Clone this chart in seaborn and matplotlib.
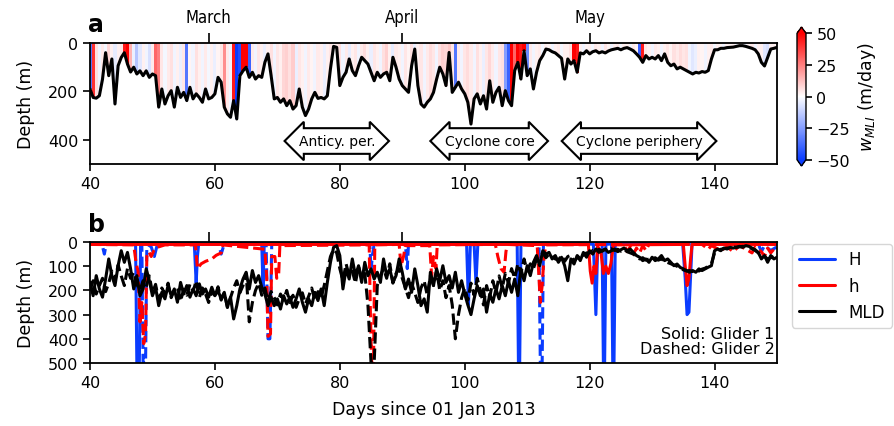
import numpy as np
import matplotlib
matplotlib.use("Agg")
import matplotlib.pyplot as plt
from matplotlib.colors import LinearSegmentedColormap
from matplotlib.lines import Line2D
import seaborn as sns

sns.set_style("ticks")
plt.rcParams["font.family"] = ["DejaVu Sans"]
plt.rcParams.update({"text.color": "black", "axes.labelcolor": "black",
                     "xtick.color": "black", "ytick.color": "black",
                     "axes.edgecolor": "black"})

# ---------------- data ----------------
T0, DT = 40.0, 0.5   # glider time series start day and sampling step (days)

# panel a: mixed-layer depth (m) used to bound the w_MLI field
mld_a = [190, 225, 228, 218, 150, 40, 135, 66, 252, 94, 60, 40, 87, 120, 100, 128, 115, 135, 115, 142,
         128, 135, 265, 190, 252, 218, 197, 265, 183, 225, 204, 238, 183, 231, 210, 225, 245, 190, 231, 225,
         210, 142, 162, 265, 293, 307, 238, 314, 135, 115, 100, 142, 121, 149, 135, 142, 80, 45, 135, 231,
         225, 245, 231, 259, 238, 273, 259, 190, 265, 300, 273, 231, 204, 229, 225, 231, 218, 107, 14, 18,
         176, 142, 121, 66, 114, 135, 94, 59, 73, 87, 121, 156, 121, 142, 128, 121, 156, 59, 100, 149,
         176, 190, 204, 94, 25, 176, 252, 265, 245, 231, 204, 149, 100, 128, 176, 39, 204, 183, 162, 190,
         210, 245, 335, 231, 210, 252, 218, 273, 156, 245, 204, 183, 259, 197, 238, 259, 114, 80, 149, 32,
         135, 107, 190, 121, 73, 52, 25, 28, 36, 41, 52, 63, 149, 66, 87, 73, 121, 41, 45, 32,
         45, 36, 32, 41, 36, 41, 33, 28, 25, 22, 28, 22, 19, 25, 32, 45, 59, 80, 52, 66,
         59, 66, 52, 73, 45, 80, 94, 87, 107, 100, 107, 114, 121, 128, 121, 124, 118, 121, 114, 66,
         28, 28, 22, 22, 19, 18, 17, 14, 11, 11, 14, 18, 22, 28, 45, 80, 95, 60, 25, 22, 18]

# panel a: w_MLI (m/day)
w_mli = [-35, 40, 6, -3, 4, -2, 8, 3, -5, 3, 5, 45, 50, 15, -4, -15, -6, 3, -3, -8,
         4, 30, 25, 5, -2, 4, 6, -3, 3, -4, 5, -35, 2, -3, 6, 3, -3, 4, -2, 3,
         -4, 2, 5, 22, 4, -3, 45, -50, -45, 50, 50, -40, 4, -3, 5, 3, -4, 3, 6, -3,
         5, 3, 8, 9, 6, 10, -4, 5, 3, -3, 4, 2, -3, 4, 3, -4, 3, 5, 2, 4,
         6, -3, 4, -5, 3, 5, -3, 4, 7, 3, -4, 5, 3, -3, 6, 9, 3, -5, 4, 3,
         -3, 5, 2, 6, -4, 3, 5, -3, 4, 7, 5, -3, 6, 9, 8, 11, 5, -35, 4, -3,
         5, 7, 4, -3, 6, 3, -4, 5, 8, 4, -3, 5, 6, -25, -40, 50, 30, 50, 45, 50,
         -30, 4, -3, 3, 4, -2, 3, 2, -3, 3, 4, -2, 3, 3, 6, 50, 45, 3, -3, 2,
         3, -2, 4, 3, -3, 5, 2, -3, 3, 4, -2, 3, 3, -3, 4, 2, -40, 45, 5, 3,
         -3, 4, 3, -3, 3, 5, 2, 6, 4, 7, 5, 6, -3, -6, -4, 3, 2, -3, 3, 4,
         -2, 3, 2, -3, 3, 2, 3, -2, 3, 2, -3, 3, 4, -3, 3, 3, -6, -8, 3, 3, 2]

# panel b: mixed-layer depth (m), glider 1 and glider 2
mld_g1 = [167, 222, 139, 194, 228, 153, 70, 139, 180, 98, 36, 84, 43, 111, 194, 139, 222, 194, 111, 160,
          222, 187, 263, 208, 235, 180, 222, 194, 249, 167, 215, 180, 228, 194, 222, 173, 215, 194, 228, 187,
          222, 201, 235, 208, 270, 228, 318, 263, 194, 153, 125, 194, 118, 167, 139, 187, 215, 263, 228, 263,
          235, 277, 222, 256, 228, 270, 235, 194, 249, 290, 235, 263, 208, 242, 194, 263, 167, 84, 22, 15,
          56, 194, 111, 153, 70, 139, 98, 167, 84, 139, 111, 153, 125, 167, 70, 139, 111, 167, 139, 70,
          125, 194, 153, 208, 111, 180, 263, 235, 290, 125, 180, 111, 160, 98, 167, 139, 190, 125, 208, 160,
          215, 260, 300, 235, 180, 222, 194, 290, 215, 249, 194, 235, 180, 222, 160, 208, 153, 222, 111, 160,
          98, 139, 84, 56, 98, 36, 50, 43, 70, 56, 84, 63, 98, 160, 70, 91, 56, 77, 43, 63,
          36, 50, 29, 43, 36, 29, 43, 36, 29, 40, 32, 25, 36, 29, 43, 56, 63, 77, 70, 84,
          63, 77, 70, 56, 77, 70, 84, 98, 91, 105, 111, 118, 125, 118, 125, 111, 118, 111, 104, 98,
          36, 29, 36, 25, 29, 22, 25, 22, 18, 22, 15, 18, 25, 32, 43, 70, 56, 84, 56, 70, 63]

mld_g2 = [200, 160, 215, 180, 150, 205, 170, 120, 160, 95, 140, 180, 110, 150, 125, 175, 200, 160, 185, 140,
          210, 175, 240, 190, 215, 170, 230, 200, 185, 245, 195, 220, 175, 205, 160, 230, 190, 215, 250, 200,
          225, 185, 240, 210, 270, 230, 190, 160, 210, 180, 130, 330, 250, 200, 170, 220, 190, 245, 205, 230,
          260, 215, 240, 200, 250, 220, 270, 235, 210, 255, 225, 190, 240, 205, 230, 180, 120, 60, 30, 45,
          110, 160, 90, 140, 120, 170, 100, 150, 130, 260, 500, 500, 180, 140, 110, 150, 90, 170, 130, 110,
          150, 190, 230, 170, 210, 250, 190, 160, 220, 140, 180, 120, 200, 160, 230, 180, 260, 400, 300, 230,
          190, 240, 170, 220, 150, 200, 260, 180, 230, 160, 210, 140, 190, 130, 170, 110, 150, 90, 130, 70,
          120, 90, 110, 70, 60, 45, 65, 50, 60, 70, 75, 55, 80, 60, 55, 80, 65, 50, 55, 45,
          45, 35, 40, 30, 38, 30, 35, 28, 35, 30, 38, 30, 40, 45, 50, 60, 70, 65, 75, 70,
          70, 65, 75, 70, 80, 85, 90, 95, 100, 110, 115, 120, 118, 122, 115, 120, 112, 108, 100, 90,
          45, 35, 30, 28, 25, 25, 20, 22, 20, 18, 20, 22, 28, 35, 45, 55, 60, 70, 65, 60, 70]

# panel b: H and h (m), vertices (day, depth)
H1_day = [40, 47.3, 47.5, 47.9, 48.1, 56.7, 57.0, 57.2, 57.4, 67.5, 67.7, 67.9, 100.3, 100.6, 100.9,
          101.5, 101.8, 102.1, 108.4, 108.6, 108.8, 109.0, 120.6, 121.0, 121.3, 122.0, 122.2, 122.4,
          122.6, 123.5, 123.7, 123.9, 124.1, 134.9, 135.3, 135.6, 135.9, 136.2, 136.4, 150]
H1_val = [8, 8, 500, 500, 8, 8, 170, 60, 8, 8, 185, 8, 8, 260, 8,
          8, 170, 8, 8, 500, 500, 8, 8, 300, 8, 8, 500, 500,
          8, 8, 500, 500, 8, 8, 150, 300, 290, 120, 8, 8]

H2_day = [40, 41.9, 42.3, 42.6, 48.3, 48.5, 48.9, 49.1, 49.8, 50.3, 50.8, 60.6, 61.0, 61.5, 68.2,
          68.5, 68.8, 69.1, 84.8, 85.0, 85.2, 85.5, 90.5, 90.8, 91.0, 111.9, 112.1, 112.4, 112.6,
          147.0, 147.5, 148.0, 149.0, 150.0]
H2_val = [8, 8, 50, 8, 8, 500, 500, 8, 20, 60, 8, 8, 50, 8, 8,
          400, 400, 8, 8, 120, 60, 8, 8, 110, 8, 8, 500, 500, 8,
          8, 40, 15, 35, 20]

h1_day = [40, 119.8, 120.1, 120.4, 120.7, 121.0, 121.3, 121.8, 122.2, 122.6, 123.0, 123.4, 123.8,
          135.0, 135.3, 135.6, 135.9, 136.2, 136.4, 150]
h1_val = [10, 10, 120, 170, 100, 130, 20, 40, 130, 100, 130, 90, 12,
          10, 100, 180, 150, 60, 10, 10]

h2_day = [40, 47.0, 47.4, 47.7, 48.0, 48.3, 48.6, 48.9, 49.1, 49.4, 49.8, 50.3, 51.0, 52.0,
          56.9, 57.2, 57.8, 58.5, 59.5, 60.2, 61.0, 61.3, 68.0, 68.3, 68.5, 68.9, 69.1, 69.6, 69.9, 70.2,
          70.4, 84.7, 84.9, 85.1, 85.4, 85.6, 89.5, 89.8, 90.2, 90.5, 94.4, 94.7, 95.0, 95.4, 95.6,
          104.9, 105.3, 105.8, 106.3, 106.6, 106.8, 111.6, 111.9, 112.1, 112.4, 112.7, 113.0,
          125.5, 126.0, 126.5, 127.0, 127.5, 128.0, 128.5, 129.0, 129.5, 138.0, 139.0, 139.5, 141.0,
          142.0, 143.0, 144.0, 145.0, 146.0, 146.5, 147.5, 148.0, 148.5, 149.0, 149.5, 150.0]
h2_val = [10, 12, 90, 120, 330, 250, 420, 380, 60, 40, 60, 30, 20, 12,
          12, 110, 90, 80, 70, 55, 45, 12, 30, 150, 390, 380, 60, 60, 150, 140,
          15, 12, 300, 500, 500, 12, 10, 100, 60, 15, 15, 140, 60, 110, 12,
          10, 60, 110, 125, 40, 10, 15, 150, 250, 180, 60, 12,
          10, 40, 20, 50, 25, 45, 15, 35, 10, 10, 30, 15, 35,
          20, 40, 15, 30, 45, 20, 40, 60, 25, 45, 30, 40]

month_days = [59, 90, 120]
month_names = ["March", "April", "May"]
regimes = [("Anticy. per.", 79.6), ("Cyclone core", 104.0), ("Cyclone periphery", 128.0)]

# ---------------- figure ----------------
fig = plt.figure(figsize=(8.95, 4.27), dpi=100)
W, Hh = 895.0, 427.0


def px_axes(x0, y0, x1, y1):
    return fig.add_axes([x0 / W, 1 - y1 / Hh, (x1 - x0) / W, (y1 - y0) / Hh])


ax_a = px_axes(90, 44, 777, 165)
ax_b = px_axes(90, 243, 777, 364)
cax = px_axes(797, 28, 806, 167)

cmap = LinearSegmentedColormap.from_list("wmli", ["#0a3cff", "#ffffff", "#ff0000"])

# panel a: w_MLI field from the surface down to the mixed-layer base
t_a = T0 + DT * np.arange(len(mld_a))
w_arr = np.array(w_mli[:len(mld_a)], dtype=float)
mld_arr = np.array(mld_a, dtype=float)
t_edges = np.concatenate([t_a - DT / 2, [t_a[-1] + DT / 2]])
z_edges = np.arange(0, 502, 2.0)
z_mid = 0.5 * (z_edges[:-1] + z_edges[1:])
field = np.where(z_mid[:, None] <= mld_arr[None, :], w_arr[None, :], np.nan)
mesh = ax_a.pcolormesh(t_edges, z_edges, np.ma.masked_invalid(field), cmap=cmap,
                       vmin=-50, vmax=50, shading="flat", rasterized=True)
sns.lineplot(x=t_a, y=mld_arr, ax=ax_a, color="black", lw=2.2, estimator=None, sort=False)

for label, xc in regimes:
    ax_a.text(xc, 405, label, ha="center", va="center", fontsize=10,
              bbox=dict(boxstyle="darrow,pad=0.42", fc="white", ec="black", lw=1.5))

# panel b: lines
t_g1 = T0 + DT * np.arange(len(mld_g1))
t_g2 = T0 + DT * np.arange(len(mld_g2))
lw = 2.2
sns.lineplot(x=H1_day, y=H1_val, ax=ax_b, color="#0a3cff", lw=lw, estimator=None, sort=False)
sns.lineplot(x=H2_day, y=H2_val, ax=ax_b, color="#0a3cff", lw=lw, linestyle="--", estimator=None, sort=False)
sns.lineplot(x=h1_day, y=h1_val, ax=ax_b, color="#ff0000", lw=lw, estimator=None, sort=False)
sns.lineplot(x=h2_day, y=h2_val, ax=ax_b, color="#ff0000", lw=lw, linestyle="--", estimator=None, sort=False)
sns.lineplot(x=t_g2, y=mld_g2, ax=ax_b, color="black", lw=lw, linestyle="--", estimator=None, sort=False)
sns.lineplot(x=t_g1, y=mld_g1, ax=ax_b, color="black", lw=lw, estimator=None, sort=False)

ax_b.text(149.6, 472, "Solid: Glider 1\nDashed: Glider 2", ha="right", va="bottom",
          fontsize=11.5, linespacing=1.0)

handles = [Line2D([], [], color="#0a3cff", lw=lw), Line2D([], [], color="#ff0000", lw=lw),
           Line2D([], [], color="black", lw=lw)]
ax_b.legend(handles, ["H", "h", "MLD"], loc="upper left", bbox_to_anchor=(1.022, 0.985),
            fontsize=12, frameon=True, handlelength=2.2, borderaxespad=0.0)

# axes formatting
for ax in (ax_a, ax_b):
    ax.set_xlim(40, 150)
    ax.set_ylim(500, 0)
    ax.set_xticks([40, 60, 80, 100, 120, 140])
    ax.tick_params(labelsize=11.5, length=5, width=1.2, direction="out")
    for s in ax.spines.values():
        s.set_visible(True)
        s.set_linewidth(1.3)
        s.set_color("black")
    ax.set_ylabel("Depth (m)", fontsize=12.5, labelpad=9)
    ax.set_xlabel("")
    top = ax.secondary_xaxis("top")
    top.set_xticks(month_days)
    top.tick_params(length=7, width=1.2, direction="out", pad=5)
    if ax is ax_a:
        top.set_xticklabels(month_names, fontsize=12, fontstretch="condensed")
    else:
        top.set_xticklabels([])

ax_a.set_yticks([0, 200, 400])
ax_b.set_yticks([0, 100, 200, 300, 400, 500])
ax_b.set_xlabel("Days since 01 Jan 2013", fontsize=12.5, labelpad=7)

fig.text(88 / W, 1 - 25 / Hh, "a", fontsize=17, fontweight="bold", ha="left", va="center")
fig.text(88 / W, 1 - 225 / Hh, "b", fontsize=17, fontweight="bold", ha="left", va="center")

cb = fig.colorbar(mesh, cax=cax, extend="both", ticks=[-50, -25, 0, 25, 50])
cb.ax.tick_params(labelsize=11.5, length=4, width=1.2)
cb.outline.set_linewidth(1.0)
cb.set_label("$w_{MLI}$ (m/day)", fontsize=12.5, labelpad=4)

fig.savefig("out.png", dpi=100)
